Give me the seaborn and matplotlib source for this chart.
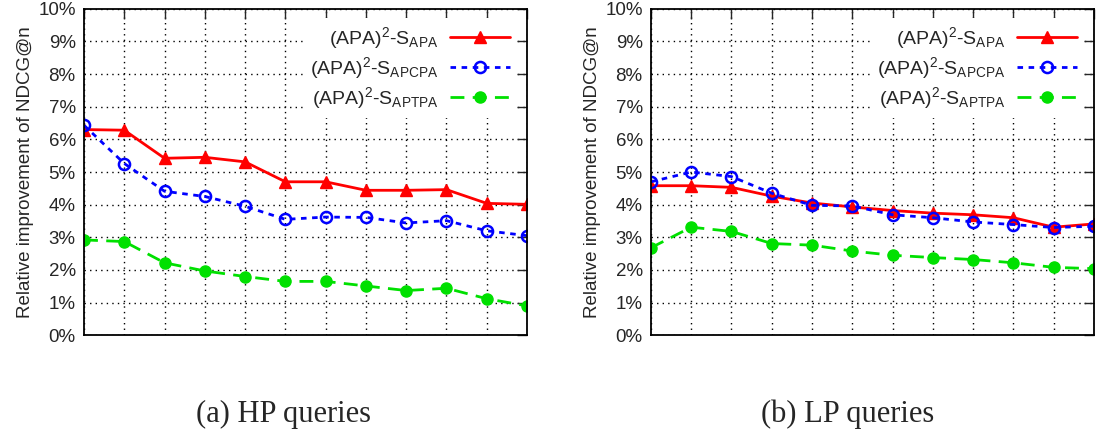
import numpy as np
import pandas as pd
import matplotlib
matplotlib.use("Agg")
import matplotlib.pyplot as plt
import seaborn as sns
from matplotlib.ticker import FuncFormatter

# -----------------------------
# Data
# -----------------------------
n_points = list(range(12))
series_names = [r"(APA)$^{2}$-S$_{\mathrm{APA}}$",
                r"(APA)$^{2}$-S$_{\mathrm{APCPA}}$",
                r"(APA)$^{2}$-S$_{\mathrm{APTPA}}$"]

hp_apa = [6.30, 6.28, 5.42, 5.45, 5.31, 4.70, 4.70, 4.44, 4.44, 4.46, 4.04, 4.01]
hp_apcpa = [6.43, 5.26, 4.41, 4.25, 3.95, 3.55, 3.62, 3.61, 3.44, 3.51, 3.20, 3.05]
hp_aptpa = [2.92, 2.87, 2.22, 1.97, 1.80, 1.65, 1.65, 1.51, 1.37, 1.44, 1.12, 0.90]

lp_apa = [4.58, 4.58, 4.53, 4.26, 4.05, 3.93, 3.82, 3.74, 3.69, 3.60, 3.31, 3.41]
lp_apcpa = [4.70, 5.00, 4.86, 4.35, 3.98, 3.96, 3.69, 3.60, 3.47, 3.39, 3.30, 3.34]
lp_aptpa = [2.68, 3.31, 3.18, 2.81, 2.76, 2.58, 2.45, 2.38, 2.32, 2.22, 2.08, 2.04]

captions = ["(a) HP queries", "(b) LP queries"]

# -----------------------------
# Style
# -----------------------------
sns.set_style("white")
plt.rcParams["font.family"] = ["Liberation Sans", "DejaVu Sans"]
plt.rcParams["mathtext.fontset"] = "custom"
plt.rcParams["mathtext.rm"] = "Liberation Sans"
plt.rcParams["mathtext.it"] = "Liberation Sans"
plt.rcParams["mathtext.default"] = "regular"

colors = ["#ff0000", "#0000ff", "#00e000"]
line_styles = ["-", (0, (2, 2)), (0, (5, 3))]
markers = ["^", "o", "o"]
face_colors = ["#ff0000", "none", "#00e000"]

fig = plt.figure(figsize=(10.97, 4.36), dpi=100)
ax_left = fig.add_axes([0.0766, 0.231, 0.4038, 0.749])
ax_right = fig.add_axes([0.5934, 0.231, 0.4038, 0.749])


def draw_panel(ax, values):
    for name, ys, c, ls, mk, fc in zip(series_names, values, colors,
                                       line_styles, markers, face_colors):
        df = pd.DataFrame({"n": n_points, "imp": ys})
        sns.lineplot(data=df, x="n", y="imp", ax=ax, color=c, linestyle=ls,
                     linewidth=2, marker=mk, markersize=9 if mk == "^" else 8,
                     markerfacecolor=fc, markeredgecolor=c,
                     markeredgewidth=1.8 if fc == "none" else 1, label=name)
    ax.set_xlim(0, 11)
    ax.set_ylim(0, 10)
    ax.set_xticks(n_points)
    ax.set_xticklabels([])
    ax.set_yticks(range(11))
    ax.yaxis.set_major_formatter(FuncFormatter(lambda v, p: f"{int(v)}%"))
    ax.set_xlabel("")
    ax.set_ylabel("Relative improvement of NDCG@n", fontsize=13.5, labelpad=3)
    ax.tick_params(axis="both", direction="in", length=7, width=1,
                   top=True, right=True, labelsize=13.5, pad=6)
    ax.grid(True, color="black", linestyle=(0, (1, 3)), linewidth=1)
    for sp in ax.spines.values():
        sp.set_color("black")
        sp.set_linewidth(1.3)
    leg = ax.legend(loc="upper right", markerfirst=False, frameon=True,
                    fontsize=14, handlelength=3.1, handletextpad=0.6,
                    labelspacing=0.2, borderpad=0.35, borderaxespad=0.5,
                    fancybox=False)
    leg.get_frame().set_facecolor("white")
    leg.get_frame().set_edgecolor("none")
    leg.get_frame().set_alpha(1)


draw_panel(ax_left, [hp_apa, hp_apcpa, hp_aptpa])
draw_panel(ax_right, [lp_apa, lp_apcpa, lp_aptpa])

fig.text(283 / 1097, 14 / 436, captions[0], ha="center", va="baseline",
         fontsize=22, family=["Liberation Serif", "DejaVu Serif"])
fig.text(848 / 1097, 14 / 436, captions[1], ha="center", va="baseline",
         fontsize=22, family=["Liberation Serif", "DejaVu Serif"])

fig.savefig("out.png", dpi=100)
